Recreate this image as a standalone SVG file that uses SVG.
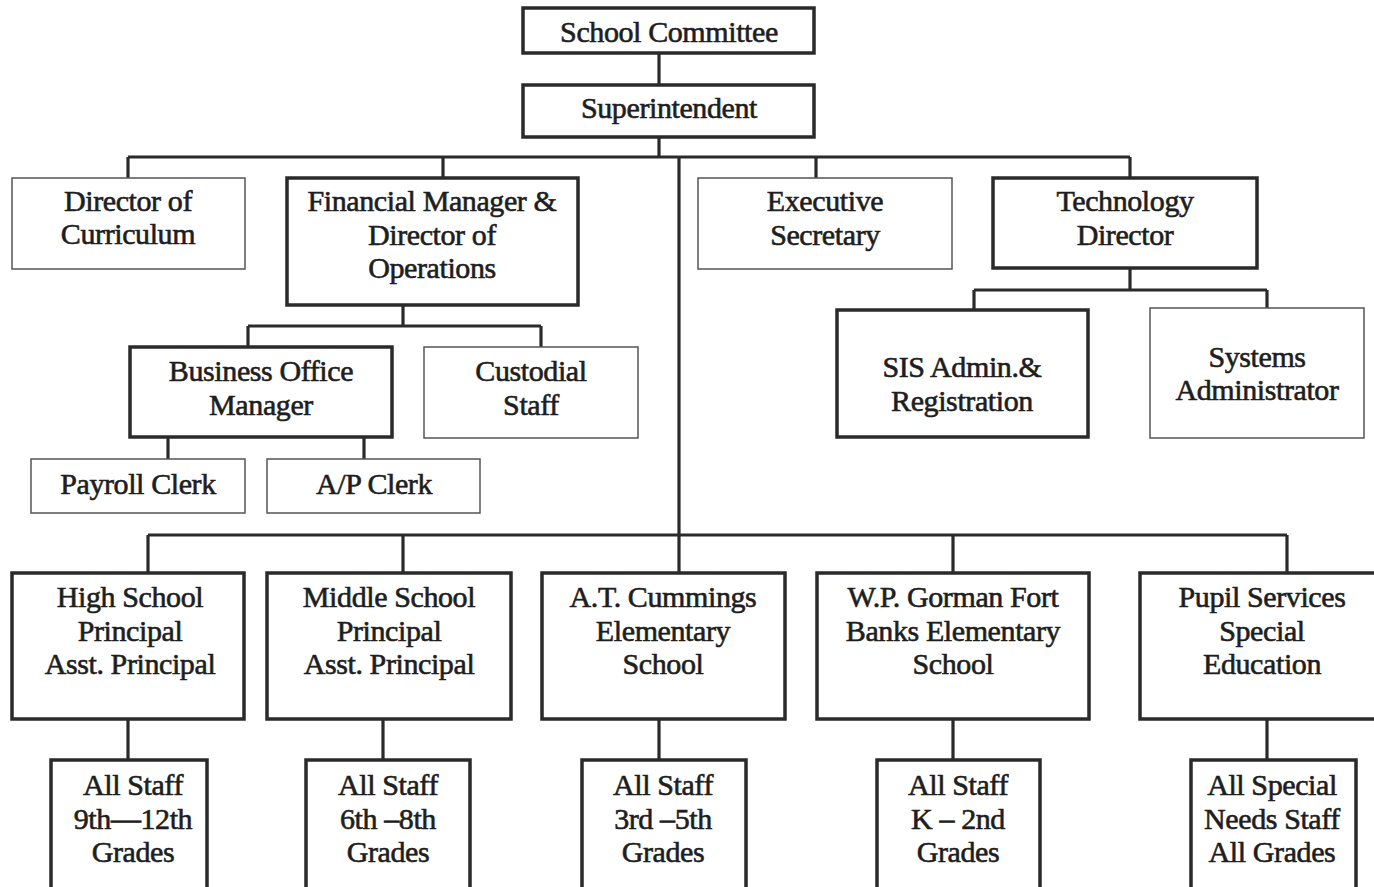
<svg xmlns="http://www.w3.org/2000/svg" width="1374" height="887" viewBox="0 0 1374 887">
<style>
rect{fill:#fff}
.k{stroke:#2a2a2a;stroke-width:3.5}
.t{stroke:#555;stroke-width:1.5}
text{font-family:"Liberation Serif","Times New Roman",serif;font-size:30px;fill:#1e1e1e;stroke:#1e1e1e;stroke-width:0.6;text-anchor:middle;letter-spacing:-0.4px}
#connectors path{fill:none;stroke:#2a2a2a;stroke-width:3.2}
</style>
<rect x="0" y="0" width="1374" height="887" style="fill:#fff"/>
<g id="connectors">
<path d="M659 52V85"/>
<path d="M659 137V157M128 157H1130M128 157V178M443 157V178M816 157V178M1130 157V178M679 157V535"/>
<path d="M403 305V326M248 326H541M248 326V347M541 326V347"/>
<path d="M168 437V459M364 437V459"/>
<path d="M1130 268V290M974 290H1267M974 290V310M1267 290V308"/>
<path d="M148 535H1287M148 535V573M403 535V573M679 535V573M953 535V573M1287 535V573"/>
<path d="M128 719V760M383 719V760M659 719V760M953 719V760M1267 719V760"/>
</g>
<g id="school-committee"><rect class="k" x="523" y="8" width="291" height="45"/><text x="669" y="42">School Committee</text></g>
<g id="superintendent"><rect class="k" x="523" y="85" width="291" height="52"/><text x="669" y="118">Superintendent</text></g>
<g id="dir-curriculum"><rect class="t" x="12" y="178" width="233" height="91"/><text x="128" y="211">Director of</text><text x="128" y="244">Curriculum</text></g>
<g id="financial"><rect class="k" x="287" y="178" width="291" height="127"/><text x="432" y="211">Financial Manager &amp;</text><text x="432" y="245">Director of</text><text x="432" y="278">Operations</text></g>
<g id="exec-secretary"><rect class="t" x="698" y="178" width="254" height="91"/><text x="825" y="211">Executive</text><text x="825" y="245">Secretary</text></g>
<g id="tech-director"><rect class="k" x="993" y="178" width="264" height="90"/><text x="1125" y="211">Technology</text><text x="1125" y="245">Director</text></g>
<g id="business-office"><rect class="k" x="130" y="347" width="262" height="90"/><text x="261" y="381">Business Office</text><text x="261" y="415">Manager</text></g>
<g id="custodial"><rect class="t" x="424" y="347" width="214" height="91"/><text x="531" y="381">Custodial</text><text x="531" y="415">Staff</text></g>
<g id="payroll"><rect class="t" x="31" y="459" width="214" height="54"/><text x="138" y="494">Payroll Clerk</text></g>
<g id="ap-clerk"><rect class="t" x="267" y="459" width="213" height="54"/><text x="374" y="494">A/P Clerk</text></g>
<g id="sis-admin"><rect class="k" x="837" y="310" width="251" height="127"/><text x="962" y="377">SIS Admin.&amp;</text><text x="962" y="411">Registration</text></g>
<g id="systems-admin"><rect class="t" x="1150" y="308" width="214" height="130"/><text x="1257" y="367">Systems</text><text x="1257" y="400">Administrator</text></g>
<g id="high-school"><rect class="k" x="12" y="573" width="232" height="146"/><text x="130" y="607">High School</text><text x="130" y="641">Principal</text><text x="130" y="674">Asst. Principal</text></g>
<g id="middle-school"><rect class="k" x="267" y="573" width="244" height="146"/><text x="389" y="607">Middle School</text><text x="389" y="641">Principal</text><text x="389" y="674">Asst. Principal</text></g>
<g id="at-cummings"><rect class="k" x="542" y="573" width="243" height="146"/><text x="663" y="607">A.T. Cummings</text><text x="663" y="641">Elementary</text><text x="663" y="674">School</text></g>
<g id="wp-gorman"><rect class="k" x="817" y="573" width="272" height="146"/><text x="953" y="607">W.P. Gorman Fort</text><text x="953" y="641">Banks Elementary</text><text x="953" y="674">School</text></g>
<g id="pupil-services"><rect class="k" x="1140" y="573" width="240" height="146"/><text x="1262" y="607">Pupil Services</text><text x="1262" y="641">Special</text><text x="1262" y="674">Education</text></g>
<g id="staff-hs"><rect class="k" x="51" y="760" width="156" height="140"/><text x="133" y="795">All Staff</text><text x="133" y="829">9th—12th</text><text x="133" y="862">Grades</text></g>
<g id="staff-ms"><rect class="k" x="306" y="760" width="164" height="140"/><text x="388" y="795">All Staff</text><text x="388" y="829">6th –8th</text><text x="388" y="862">Grades</text></g>
<g id="staff-atc"><rect class="k" x="582" y="760" width="164" height="140"/><text x="663" y="795">All Staff</text><text x="663" y="829">3rd –5th</text><text x="663" y="862">Grades</text></g>
<g id="staff-wp"><rect class="k" x="877" y="760" width="163" height="140"/><text x="958" y="795">All Staff</text><text x="958" y="829">K – 2nd</text><text x="958" y="862">Grades</text></g>
<g id="staff-pupil"><rect class="k" x="1191" y="760" width="165" height="140"/><text x="1272" y="795">All Special</text><text x="1272" y="829">Needs Staff</text><text x="1272" y="862">All Grades</text></g>
</svg>
